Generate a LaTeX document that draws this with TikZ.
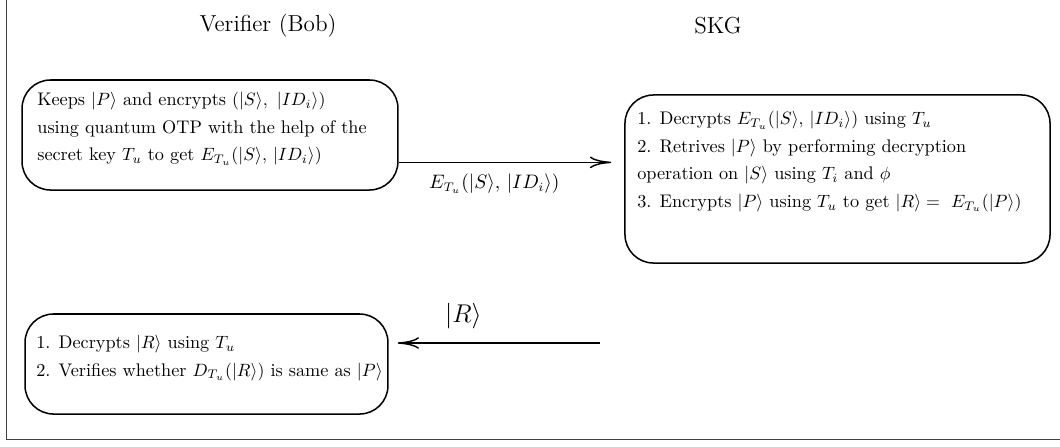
\documentclass[tikz,border=0pt]{standalone}
\usetikzlibrary{arrows.meta,calc}
\begin{document}
\begin{tikzpicture}[x=0.5618pt,y=-0.5618pt,
  box/.style={draw, line width=0.85pt, rounded corners=16pt, inner sep=0pt},
  txt/.style={anchor=north west, align=left, inner sep=0pt, font=\fontsize{10.25}{15.5}\selectfont},
  arr/.style={line width=0.8pt, -{To[length=12pt,width=6.5pt]}},
  title/.style={font=\fontsize{13}{15}\selectfont},
  frame/.style={line width=0.5pt, black!75}]
\useasboundingbox (0,0) rectangle (1060,446);
\draw[frame] (6,0) -- (6,439) -- (1060,439);

\node[title] (t1) at (268,26) {Verifier (Bob)};
\node[title] (t2) at (718,26) {SKG};

\node[box, minimum width=211.2pt, minimum height=61.8pt] (b1) at (210,135) {};
\node[txt] (x1) at (37,92) {Keeps $|P\rangle$ and encrypts $(|S\rangle,\ |ID_i\rangle)$\\
using quantum OTP with the help of the\\
secret key $T_u$ to get $E_{T_u}(|S\rangle,\,|ID_i\rangle)$};

\node[box, minimum width=238.8pt, minimum height=94.4pt] (b2) at (837.5,179) {};
\node[txt] (x2) at (637,111) {1. Decrypts $E_{T_u}(|S\rangle,\,|ID_i\rangle)$ using $T_u$\\
2. Retrives $|P\rangle$ by performing decryption\\
operation on $|S\rangle$ using $T_i$ and $\phi$\\
3. Encrypts $|P\rangle$ using $T_u$ to get $|R\rangle=\ E_{T_u}(|P\rangle)$};

\node[box, minimum width=203.9pt, minimum height=56.2pt] (b3) at (206.5,364) {};
\node[txt] (x3) at (36,335) {1. Decrypts $|R\rangle$ using $T_u$\\
2. Verifies whether $D_{T_u}(|R\rangle)$ is same as $|P\rangle$};

\coordinate (a1s) at ($(b1.south east)!0.2545!(b1.north east)$);
\draw[arr] (a1s) -- ([xshift=-7.3pt]b2.west |- a1s)
  node[pos=0.45, below=3pt, font=\fontsize{10.5}{12}\selectfont] (l1) {$E_{T_u}(|S\rangle,\,|ID_i\rangle)$};

\coordinate (a2s) at (600,343);
\draw[arr] (a2s) -- ([xshift=5pt]b3.east |- a2s)
  node[pos=0.675, above=4pt, font=\fontsize{13.5}{15}\selectfont] (l2) {$|R\rangle$};
\end{tikzpicture}
\end{document}
